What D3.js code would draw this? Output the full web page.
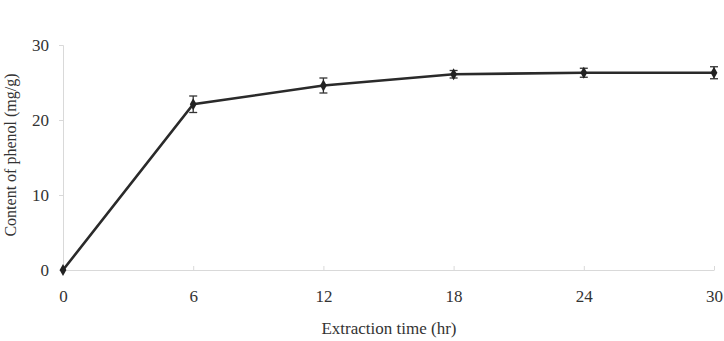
<!DOCTYPE html>
<html>
<head>
<meta charset="utf-8">
<script src="https://cdn.jsdelivr.net/npm/d3@7"></script>
<style>
  body { margin: 0; background: #fff; }
  text { font-family: "Liberation Serif", "Times New Roman", serif; fill: #333; }
</style>
</head>
<body>
<svg width="724" height="341"></svg>
<script>
// extraction time (hr) vs phenol content (mg/g)
const times = [0, 6, 12, 18, 24, 30];
const content = [0, 22.1, 24.6, 26.1, 26.3, 26.3];
const errors = [0, 1.1, 1.0, 0.5, 0.6, 0.8];
const xTicks = [0, 6, 12, 18, 24, 30];
const yTicks = [0, 10, 20, 30];

const svg = d3.select("svg");
const margin = {left: 63, right: 10, top: 45, bottom: 71};
const width = +svg.attr("width");
const height = +svg.attr("height");

const x = d3.scaleLinear().domain([0, 30]).range([margin.left, width - margin.right]);
const y = d3.scaleLinear().domain([0, 30]).range([height - margin.bottom, margin.top]);

const axisColor = "#d9d9d9";

// y axis
const gy = svg.append("g")
    .attr("transform", "translate(" + margin.left + ",0)")
    .call(d3.axisLeft(y).tickValues(yTicks).tickSize(4).tickPadding(10));
gy.select(".domain").attr("stroke", axisColor);
gy.selectAll(".tick line").attr("stroke", axisColor);
gy.selectAll(".tick text").style("font-size", "17px").attr("fill", "#333");

// x axis
const gx = svg.append("g")
    .attr("transform", "translate(0," + y(0) + ")")
    .call(d3.axisBottom(x).tickValues(xTicks).tickSizeInner(-4).tickSizeOuter(0).tickPadding(20));
gx.select(".domain").attr("stroke", axisColor);
gx.selectAll(".tick line").attr("stroke", axisColor);
gx.selectAll(".tick text").style("font-size", "17px").attr("fill", "#333");

// axis titles
svg.append("text")
    .attr("x", 389)
    .attr("y", 334)
    .attr("text-anchor", "middle")
    .style("font-size", "17px")
    .text("Extraction time (hr)");

svg.append("text")
    .attr("transform", "translate(16,155) rotate(-90)")
    .attr("text-anchor", "middle")
    .style("font-size", "16px")
    .text("Content of phenol (mg/g)");

const pts = times.map((t, i) => ({t: t, v: content[i], e: errors[i]}));

// line
svg.append("path")
    .datum(pts)
    .attr("fill", "none")
    .attr("stroke", "#2a2a2a")
    .attr("stroke-width", 2.6)
    .attr("d", d3.line().x(d => x(d.t)).y(d => y(d.v)));

// error bars
const eb = svg.append("g").attr("stroke", "#333").attr("stroke-width", 1.3);
pts.filter(d => d.e > 0).forEach(d => {
    eb.append("line").attr("x1", x(d.t)).attr("x2", x(d.t))
        .attr("y1", y(d.v - d.e)).attr("y2", y(d.v + d.e));
    [d.v - d.e, d.v + d.e].forEach(v => {
        eb.append("line").attr("x1", x(d.t) - 4).attr("x2", x(d.t) + 4)
            .attr("y1", y(v)).attr("y2", y(v));
    });
});

// diamond markers
svg.append("g").selectAll("path")
    .data(pts)
    .enter().append("path")
    .attr("transform", d => "translate(" + x(d.t) + "," + y(d.v) + ")")
    .attr("d", d3.symbol().type(d3.symbolDiamond).size(40))
    .attr("fill", "#222");
</script>
</body>
</html>
